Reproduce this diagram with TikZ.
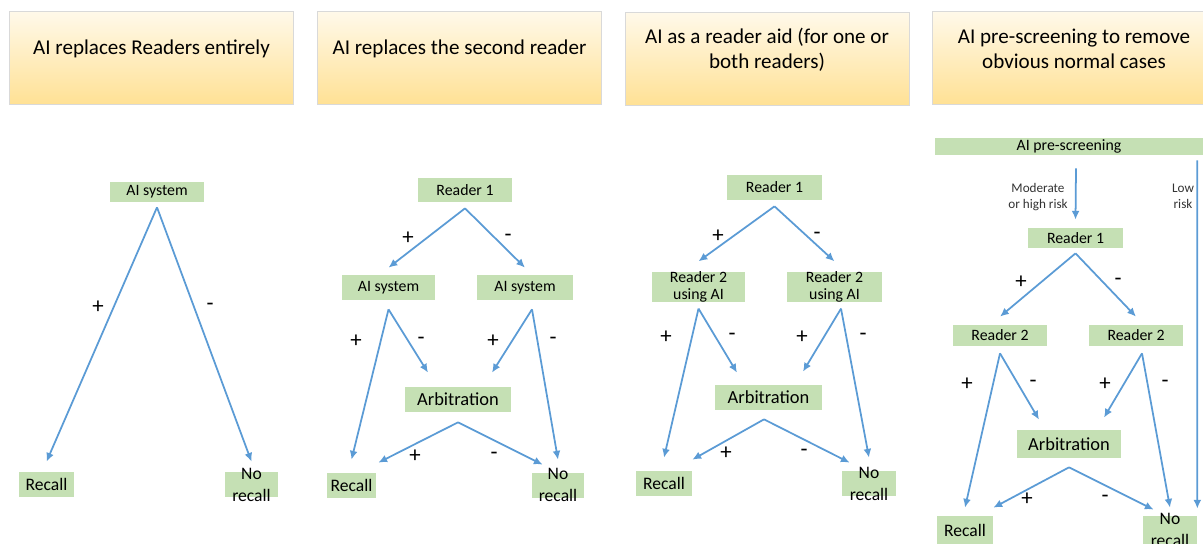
\documentclass[tikz,border=0pt]{standalone}
\usepackage{fontspec}
\setmainfont{Carlito}
\usetikzlibrary{arrows.meta,calc,positioning}
\definecolor{flowblue}{HTML}{5B9BD5}
\definecolor{boxgreen}{HTML}{C5E0B4}
\definecolor{hdtop}{HTML}{FFF9EA}
\definecolor{hdbot}{HTML}{FFE195}
\begin{document}
\begin{tikzpicture}[x=0.02cm,y=-0.02cm,
	flow/.style={draw=flowblue, line width=1pt, -{Latex[length=5pt,width=4.5pt]}},
	hdbox/.style={draw=black!15, line width=.4pt, top color=hdtop, bottom color=hdbot, minimum width=5.68cm, minimum height=1.86cm, inner sep=0pt},
	hdtext/.style={align=center, font=\fontsize{12}{14.2}\selectfont},
	gbox/.style={fill=boxgreen, inner sep=0pt, minimum width=1.88cm, minimum height=.5cm, font=\fontsize{9}{10.5}\selectfont},
	aidbox/.style={gbox, minimum height=.6cm, align=center, font=\fontsize{9}{9.6}\selectfont},
	arbbox/.style={gbox, minimum width=2.14cm, font=\fontsize{10.5}{12}\selectfont},
	endbox/.style={gbox, minimum width=1.1cm, font=\fontsize{10}{12.5}\selectfont},
	endtext/.style={align=center, inner sep=0pt, font=\fontsize{10}{12.5}\selectfont},
	sign/.style={inner sep=0pt, font=\fontsize{13}{13}\selectfont},
	risk/.style={align=center, inner sep=0pt, text=black!80, font=\fontsize{7.5}{9}\selectfont}]
	\useasboundingbox (0,0) rectangle (1203,544);

	\node[hdbox] (h1) at (151.5,57.5) {};
	\node[hdtext] (h1t) at ($(h1.center)+(0,-9)$) {AI replaces Readers entirely};
	\node[hdbox] (h2) at (459.5,57.5) {};
	\node[hdtext] (h2t) at ($(h2.center)+(0,-9)$) {AI replaces the second reader};
	\node[hdbox] (h3) at (767,58.5) {};
	\node[hdtext] (h3t) at ($(h3.center)+(0,-9)$) {AI as a reader aid (for one or\\both readers)};
	\node[hdbox] (h4) at (1074,57.5) {};
	\node[hdtext] (h4t) at ($(h4.center)+(0,-9)$) {AI pre-screening to remove\\obvious normal cases};

	% AI alone
	\node[gbox, minimum height=.4cm] (ai1) at (157,192) {AI system};
	\node[endbox] (rc1) at (46.5,484.5) {Recall};
	\node[endbox, minimum width=1.06cm] (nr1) at (251.5,484.5) {};
	\node[endtext] (nr1t) at (nr1) {No\\recall};
	\draw[flow] ([yshift=-.1cm]ai1.south) -- ([yshift=.2cm]rc1.north);
	\draw[flow] ([yshift=-.1cm]ai1.south) -- ([yshift=.2cm]nr1.north);
	\node[sign] (s1a) at (98,307) {+};
	\node[sign] (s1b) at (210,307) {-};

	% AI as second reader
	\node[gbox, minimum height=.48cm] (r21) at (465,190) {Reader 1};
	\node[gbox] (a21) at (388.5,287.5) {AI system};
	\node[gbox, minimum width=1.92cm] (a22) at (525,287.5) {AI system};
	\node[arbbox] (arb2) at (458,399.5) {Arbitration};
	\node[endbox, minimum width=.98cm] (rc2) at (351.5,485) {Recall};
	\node[endbox, minimum width=1.04cm] (nr2) at (558,485) {};
	\node[endtext] (nr2t) at (nr2) {No\\recall};
	\draw[flow] ([yshift=-.12cm]r21.south) -- ([yshift=.14cm]a21.north);
	\draw[flow] ([yshift=-.12cm]r21.south) -- ([yshift=.14cm]a22.north);
	\draw[flow] ([yshift=-.18cm]a21.south) -- ([yshift=.25cm]rc2.north);
	\draw[flow] ([yshift=-.18cm]a21.south) -- ([xshift=-.6cm,yshift=.28cm]arb2.north);
	\draw[flow] ([xshift=.14cm,yshift=-.18cm]a22.south) -- ([xshift=.68cm,yshift=.28cm]arb2.north);
	\draw[flow] ([xshift=.14cm,yshift=-.18cm]a22.south) -- ([yshift=.25cm]nr2.north);
	\draw[flow] ([yshift=-.2cm]arb2.south) -- ([xshift=.04cm,yshift=.19cm]rc2.north east);
	\draw[flow] ([yshift=-.2cm]arb2.south) -- ([xshift=.22cm,yshift=.15cm]nr2.north west);
	\node[sign] (s2a) at (408,238) {+};
	\node[sign] (s2b) at (508,238) {-};
	\node[sign] (s2c) at (356,341) {+};
	\node[sign] (s2d) at (421,341) {-};
	\node[sign] (s2e) at (493,341) {+};
	\node[sign] (s2f) at (553,341) {-};
	\node[sign] (s2g) at (415,456) {+};
	\node[sign] (s2h) at (494,456) {-};

	% AI as reader aid
	\node[gbox, minimum width=1.9cm] (r31) at (774.5,187.5) {Reader 1};
	\node[aidbox, minimum width=1.86cm] (u31) at (698.5,287) {Reader 2\\using AI};
	\node[aidbox, minimum width=1.9cm] (u32) at (834.5,287) {Reader 2\\using AI};
	\node[arbbox] (arb3) at (768.5,397.5) {Arbitration};
	\node[endbox, minimum width=1.12cm] (rc3) at (664,483.5) {Recall};
	\node[endbox, minimum width=1.08cm] (nr3) at (869,483.5) {};
	\node[endtext] (nr3t) at (nr3) {No\\recall};
	\draw[flow] ([yshift=-.12cm]r31.south) -- ([yshift=.2cm]u31.north);
	\draw[flow] ([yshift=-.12cm]r31.south) -- ([yshift=.2cm]u32.north);
	\draw[flow] ([yshift=-.12cm]u31.south) -- ([yshift=.26cm]rc3.north);
	\draw[flow] ([yshift=-.12cm]u31.south) -- ([xshift=-.63cm,yshift=.24cm]arb3.north);
	\draw[flow] ([xshift=.13cm,yshift=-.12cm]u32.south) -- ([xshift=.69cm,yshift=.26cm]arb3.north);
	\draw[flow] ([xshift=.13cm,yshift=-.12cm]u32.south) -- ([yshift=.26cm]nr3.north);
	\draw[flow] ([xshift=-.09cm,yshift=-.18cm]arb3.south) -- ([yshift=.22cm]rc3.north east);
	\draw[flow] ([xshift=-.09cm,yshift=-.18cm]arb3.south) -- ([xshift=.16cm,yshift=.16cm]nr3.north west);
	\node[sign] (s3a) at (718,236) {+};
	\node[sign] (s3b) at (817,236) {-};
	\node[sign] (s3c) at (666,337) {+};
	\node[sign] (s3d) at (732,337) {-};
	\node[sign] (s3e) at (802,337) {+};
	\node[sign] (s3f) at (863,337) {-};
	\node[sign] (s3g) at (726,453) {+};
	\node[sign] (s3h) at (804,453) {-};

	% AI pre-screening
	\node[gbox, minimum width=5.36cm, minimum height=.34cm] (pre) at (1069,146.5) {AI pre-screening};
	\node[gbox, minimum width=1.9cm, minimum height=.4cm] (r41) at (1075.5,238) {Reader 1};
	\node[gbox, minimum height=.42cm] (b41) at (1000,335.5) {Reader 2};
	\node[gbox, minimum height=.42cm] (b42) at (1136,335.5) {Reader 2};
	\node[arbbox, minimum width=2.08cm, minimum height=.56cm] (arb4) at (1069,444) {Arbitration};
	\node[endbox, minimum width=1.12cm, minimum height=.56cm] (rc4) at (965,530) {Recall};
	\node[endbox, minimum width=1.08cm, minimum height=.56cm] (nr4) at (1170,530) {};
	\node[endtext] (nr4t) at (nr4) {No\\recall};
	\draw[flow] ([xshift=.14cm,yshift=-.26cm]pre.south) -- ([yshift=.16cm]r41.north);
	\draw[flow] ([xshift=-.12cm,yshift=-.1cm]pre.south east) -- ([yshift=.14cm]nr4.north east);
	\node[risk] (mod) at (1038,197) {Moderate\\or high risk};
	\node[risk] (low) at (1183,196) {Low\\risk};
	\draw[flow] ([yshift=-.1cm]r41.south) -- ([yshift=.16cm]b41.north);
	\draw[flow] ([yshift=-.1cm]r41.south) -- ([yshift=.16cm]b42.north);
	\draw[flow] ([yshift=-.14cm]b41.south) -- ([yshift=.16cm]rc4.north);
	\draw[flow] ([yshift=-.14cm]b41.south) -- ([xshift=-.6cm,yshift=.2cm]arb4.north);
	\draw[flow] ([xshift=.12cm,yshift=-.14cm]b42.south) -- ([xshift=.7cm,yshift=.24cm]arb4.north);
	\draw[flow] ([xshift=.12cm,yshift=-.14cm]b42.south) -- ([yshift=.16cm]nr4.north);
	\draw[flow] ([yshift=-.18cm]arb4.south) -- ([yshift=.16cm]rc4.north east);
	\draw[flow] ([yshift=-.18cm]arb4.south) -- ([xshift=.22cm,yshift=.12cm]nr4.north west);
	\node[sign] (s4a) at (1021,282) {+};
	\node[sign] (s4b) at (1118,282) {-};
	\node[sign] (s4c) at (967,384) {+};
	\node[sign] (s4d) at (1033,384) {-};
	\node[sign] (s4e) at (1105,384) {+};
	\node[sign] (s4f) at (1165,384) {-};
	\node[sign] (s4g) at (1027,499) {+};
	\node[sign] (s4h) at (1105,499) {-};
\end{tikzpicture}
\end{document}
